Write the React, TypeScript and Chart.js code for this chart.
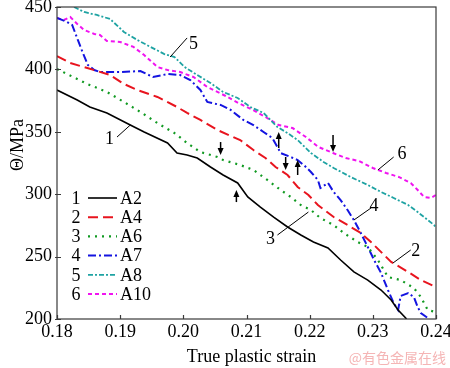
import React, { useEffect, useRef } from "react";
import { Chart, registerables } from "chart.js";

Chart.register(...registerables);

const FONT = '"Liberation Serif", "Times New Roman", serif';

// ---------- data ----------
const seriesNames = ["A2", "A4", "A6", "A7", "A8", "A10"];
const seriesNumbers = ["1", "2", "3", "4", "5", "6"];
const seriesColors = ["#000000", "#e8141e", "#119a22", "#1414e0", "#1fa3a3", "#f014f0"];

const xMin = 0.18;
const xMax = 0.24;
const xStep = 0.01;
const yMin = 200;
const yMax = 450;
const yStep = 50;

const A2: [number, number][] = [
  [0.18, 383.5], [0.1832, 375.5], [0.1852, 369.9], [0.1879, 365.1], [0.1916, 355.4],
  [0.1938, 349.8], [0.1975, 341.0], [0.199, 333.0], [0.2006, 331.4], [0.2022, 329.0],
  [0.2043, 321.8], [0.2063, 315.4], [0.2086, 309.0], [0.2102, 297.8], [0.2122, 289.7],
  [0.2143, 281.7], [0.2165, 273.7], [0.2186, 267.3], [0.2206, 261.7], [0.2229, 256.9],
  [0.2249, 247.3], [0.227, 237.7], [0.2292, 231.2], [0.2313, 223.2], [0.2329, 215.2],
  [0.234, 207.2], [0.2352, 200.8], [0.2358, 196.0],
];

const A4: [number, number][] = [
  [0.18, 410.7], [0.1821, 405.1], [0.1848, 401.1], [0.1884, 395.5], [0.1906, 388.3],
  [0.1927, 383.5], [0.1959, 377.9], [0.199, 369.9], [0.2006, 365.1], [0.2027, 359.5],
  [0.2054, 351.4], [0.209, 343.4], [0.2111, 335.4], [0.213, 329.0], [0.2146, 321.8],
  [0.2165, 315.4], [0.2181, 305.8], [0.2198, 299.4], [0.2213, 291.3], [0.2238, 281.7],
  [0.226, 275.3], [0.2281, 268.9], [0.2297, 261.7], [0.2329, 245.7], [0.2356, 237.7],
  [0.2376, 231.2], [0.24, 225.6],
];

const A6: [number, number][] = [
  [0.18, 400.3], [0.1816, 396.3], [0.1848, 388.3], [0.1879, 381.9], [0.1906, 373.9],
  [0.1932, 365.9], [0.1959, 357.0], [0.1986, 349.0], [0.2006, 341.0], [0.2027, 333.8],
  [0.2054, 329.8], [0.2063, 327.4], [0.209, 323.4], [0.2111, 319.4], [0.2133, 311.4],
  [0.2154, 303.4], [0.217, 297.8], [0.2186, 291.3], [0.2202, 287.3], [0.2217, 280.9],
  [0.2238, 275.3], [0.2254, 268.9], [0.2276, 261.7], [0.2292, 257.7], [0.2308, 247.3],
  [0.2324, 233.6], [0.2344, 231.2], [0.2365, 224.8], [0.2376, 217.6], [0.2387, 207.2],
  [0.24, 205.6],
];

const A7: [number, number][] = [
  [0.18, 441.2], [0.1816, 438.0], [0.1824, 435.6], [0.1833, 423.6], [0.1841, 413.1],
  [0.1849, 403.5], [0.1859, 399.5], [0.1868, 397.9], [0.19, 397.9], [0.1932, 398.7],
  [0.1952, 393.9], [0.1975, 396.3], [0.1995, 395.5], [0.2011, 391.5], [0.2027, 383.5],
  [0.2038, 373.9], [0.2059, 371.5], [0.2075, 367.5], [0.2095, 359.5], [0.2111, 355.4],
  [0.2127, 349.8], [0.2141, 345.0], [0.2149, 337.8], [0.2154, 333.0], [0.217, 329.8],
  [0.2181, 327.4], [0.2194, 321.8], [0.2202, 317.8], [0.2213, 311.4], [0.2217, 305.0],
  [0.2229, 309.0], [0.2238, 301.8], [0.2249, 295.3], [0.226, 287.3], [0.227, 279.3],
  [0.2281, 268.9], [0.2292, 257.7], [0.2302, 247.3], [0.2313, 236.9], [0.2324, 223.2],
  [0.2333, 212.8], [0.234, 207.2], [0.2344, 218.4], [0.2356, 220.8], [0.2365, 217.6],
  [0.2371, 209.6], [0.2376, 204.8], [0.2387, 200.8], [0.2395, 196.0],
];

const A8: [number, number][] = [
  [0.1827, 450.0], [0.1843, 446.0], [0.1863, 443.6], [0.1884, 440.4], [0.1906, 430.0],
  [0.1927, 423.6], [0.1948, 418.0], [0.197, 412.3], [0.1986, 409.9], [0.2002, 401.9],
  [0.2022, 395.5], [0.2043, 389.1], [0.2063, 381.9], [0.2086, 377.1], [0.2106, 369.9],
  [0.2127, 365.1], [0.2149, 353.8], [0.2165, 349.0], [0.2181, 343.4], [0.2202, 333.0],
  [0.2222, 325.8], [0.2238, 321.0], [0.2265, 313.8], [0.2292, 307.4], [0.2313, 301.8],
  [0.2333, 297.0], [0.2356, 291.3], [0.2371, 285.7], [0.2397, 275.3], [0.24, 272.9],
];

const A10: [number, number][] = [
  [0.18, 441.2], [0.1811, 439.6], [0.1821, 442.0], [0.1832, 436.4], [0.1843, 431.6],
  [0.1859, 428.4], [0.1868, 427.6], [0.1879, 422.8], [0.19, 422.0], [0.1921, 418.0],
  [0.1938, 411.5], [0.1959, 401.9], [0.1975, 399.5], [0.1995, 397.9], [0.2016, 393.9],
  [0.2038, 385.9], [0.2067, 378.7], [0.2087, 373.1], [0.211, 367.5], [0.213, 361.9],
  [0.2151, 355.4], [0.2173, 353.0], [0.2194, 345.8], [0.2214, 337.8], [0.2237, 333.0],
  [0.2257, 329.0], [0.2278, 326.6], [0.23, 321.0], [0.2321, 317.0], [0.2341, 313.8],
  [0.236, 309.0], [0.2371, 303.4], [0.2381, 297.8], [0.2392, 297.0], [0.24, 299.4],
];

const seriesData = [A2, A4, A6, A7, A8, A10];

// annotation arrows (data coordinates): x, tail y, head y
const arrowX = [0.2059, 0.2151, 0.2162, 0.2181, 0.2084, 0.2237];
const arrowTailY = [341.8, 337.0, 329.8, 315.4, 293.7, 347.4];
const arrowHeadY = [331.4, 349.8, 319.4, 327.4, 303.4, 333.8];

// curve number callouts (data coordinates)
const calloutText = ["1", "2", "3", "4", "5", "6"];
const calloutTextX = [0.1883, 0.2368, 0.2138, 0.2302, 0.2016, 0.2346];
const calloutTextY = [345.0, 255.3, 264.9, 291.3, 421.2, 333.0];
const calloutFromX = [0.1895, 0.2332, 0.2149, 0.227, 0.1979, 0.2308];
const calloutFromY = [345.8, 244.9, 267.3, 279.3, 409.9, 319.4];
const calloutToX = [0.1916, 0.236, 0.2198, 0.2297, 0.2006, 0.2333];
const calloutToY = [355.4, 255.3, 285.7, 288.9, 425.2, 329.8];

const xTitle = "True plastic strain";
const yTitle = "Θ/MPa";
const watermark = "@有色金属在线";

// ---------- styles ----------
const dashes: number[][] = [[], [10, 5], [2, 5], [8, 3, 2, 3], [5, 2, 2, 2], [4, 3]];
const widths = [1.6, 2, 2.2, 2, 1.8, 2];

const overlayPlugin = {
  id: "overlay",
  afterDraw(chart: any) {
    const { ctx, chartArea } = chart;
    const xs = chart.scales.x;
    const ys = chart.scales.y;
    const { left, right, top, bottom } = chartArea;
    ctx.save();

    // frame
    ctx.strokeStyle = "#3a3a3a";
    ctx.lineWidth = 1.2;
    ctx.setLineDash([]);
    ctx.strokeRect(left, top, right - left, bottom - top);

    // inward ticks
    ctx.beginPath();
    for (let v = xMin; v <= xMax + 1e-9; v += xStep) {
      const px = Math.round(xs.getPixelForValue(v)) + 0.5;
      ctx.moveTo(px, bottom);
      ctx.lineTo(px, bottom - 4);
    }
    for (let v = yMin; v <= yMax + 1e-9; v += yStep) {
      const py = Math.round(ys.getPixelForValue(v)) + 0.5;
      ctx.moveTo(left - 2, py);
      ctx.lineTo(left + 4, py);
    }
    ctx.stroke();

    // legend
    ctx.font = `18px ${FONT}`;
    ctx.textBaseline = "middle";
    for (let i = 0; i < seriesNames.length; i++) {
      const cy = 198 + i * 19.2;
      ctx.fillStyle = "#000";
      ctx.textAlign = "center";
      ctx.fillText(seriesNumbers[i], 76, cy + 1);
      ctx.strokeStyle = seriesColors[i];
      ctx.lineWidth = widths[i];
      ctx.setLineDash(dashes[i]);
      ctx.beginPath();
      ctx.moveTo(88, cy);
      ctx.lineTo(117, cy);
      ctx.stroke();
      ctx.setLineDash([]);
      ctx.textAlign = "left";
      ctx.fillText(seriesNames[i], 120, cy + 1);
    }

    // arrows
    ctx.fillStyle = "#000";
    ctx.strokeStyle = "#000";
    for (let i = 0; i < arrowX.length; i++) {
      const px = xs.getPixelForValue(arrowX[i]);
      const y0 = ys.getPixelForValue(arrowTailY[i]);
      const y1 = ys.getPixelForValue(arrowHeadY[i]);
      const dir = y1 > y0 ? 1 : -1;
      const headLen = 7;
      ctx.lineWidth = 1.5;
      ctx.beginPath();
      ctx.moveTo(px, y0);
      ctx.lineTo(px, y1 - dir * headLen);
      ctx.stroke();
      ctx.beginPath();
      ctx.moveTo(px, y1);
      ctx.lineTo(px - 3, y1 - dir * headLen);
      ctx.lineTo(px + 3, y1 - dir * headLen);
      ctx.closePath();
      ctx.fill();
    }

    // callouts
    ctx.lineWidth = 1;
    ctx.font = `18px ${FONT}`;
    ctx.textAlign = "center";
    ctx.textBaseline = "middle";
    for (let i = 0; i < calloutText.length; i++) {
      ctx.beginPath();
      ctx.moveTo(xs.getPixelForValue(calloutFromX[i]), ys.getPixelForValue(calloutFromY[i]));
      ctx.lineTo(xs.getPixelForValue(calloutToX[i]), ys.getPixelForValue(calloutToY[i]));
      ctx.stroke();
      ctx.fillText(calloutText[i], xs.getPixelForValue(calloutTextX[i]), ys.getPixelForValue(calloutTextY[i]) + 1);
    }

    // axis titles
    ctx.font = `18px ${FONT}`;
    ctx.fillStyle = "#000";
    ctx.textAlign = "center";
    ctx.textBaseline = "middle";
    ctx.fillText(xTitle, (left + right) / 2 + 5, 357);
    ctx.save();
    ctx.translate(18, 145);
    ctx.rotate(-Math.PI / 2);
    ctx.fillText(yTitle, 0, 0);
    ctx.restore();

    // watermark
    ctx.font = `14px "Noto Sans CJK SC", sans-serif`;
    ctx.fillStyle = "#f5b5b5";
    ctx.textAlign = "right";
    ctx.fillText(watermark, 446, 358);

    ctx.restore();
  },
};

export default function App() {
  const canvasRef = useRef<HTMLCanvasElement | null>(null);

  useEffect(() => {
    if (!canvasRef.current) return;
    const chart = new Chart(canvasRef.current, {
      type: "line",
      data: {
        datasets: seriesData.map((d, i) => ({
          label: seriesNames[i],
          data: d.map(([x, y]) => ({ x, y })),
          borderColor: seriesColors[i],
          borderWidth: widths[i],
          borderDash: dashes[i],
          pointRadius: 0,
          tension: 0,
          fill: false,
        })),
      },
      options: {
        animation: false,
        responsive: false,
        maintainAspectRatio: false,
        layout: { padding: { left: 0, right: 14, top: 7, bottom: 0 } },
        plugins: {
          legend: { display: false },
          tooltip: { enabled: false },
        },
        scales: {
          x: {
            type: "linear",
            min: xMin,
            max: xMax,
            grid: { display: false, drawTicks: false },
            border: { display: false },
            ticks: {
              stepSize: xStep,
              color: "#000",
              padding: 2,
              font: { family: FONT, size: 18 },
              maxRotation: 0,
              callback: (v: any) => Number(v).toFixed(2),
            },
            afterFit: (s: any) => {
              s.height = 49;
              s.paddingLeft = 0;
              s.paddingRight = 0;
            },
          },
          y: {
            type: "linear",
            min: yMin,
            max: yMax,
            grid: { display: false, drawTicks: false },
            border: { display: false },
            ticks: {
              stepSize: yStep,
              color: "#000",
              padding: 5,
              font: { family: FONT, size: 18 },
            },
            afterFit: (s: any) => {
              s.width = 57;
              s.paddingTop = 0;
              s.paddingBottom = 0;
            },
          },
        },
      },
      plugins: [overlayPlugin],
    });
    return () => chart.destroy();
  }, []);

  return (
    <div style={{ position: "absolute", left: 0, top: 0, width: 450, height: 368, background: "#fff" }}>
      <canvas ref={canvasRef} width={450} height={368} style={{ width: 450, height: 368, display: "block" }} />
    </div>
  );
}
